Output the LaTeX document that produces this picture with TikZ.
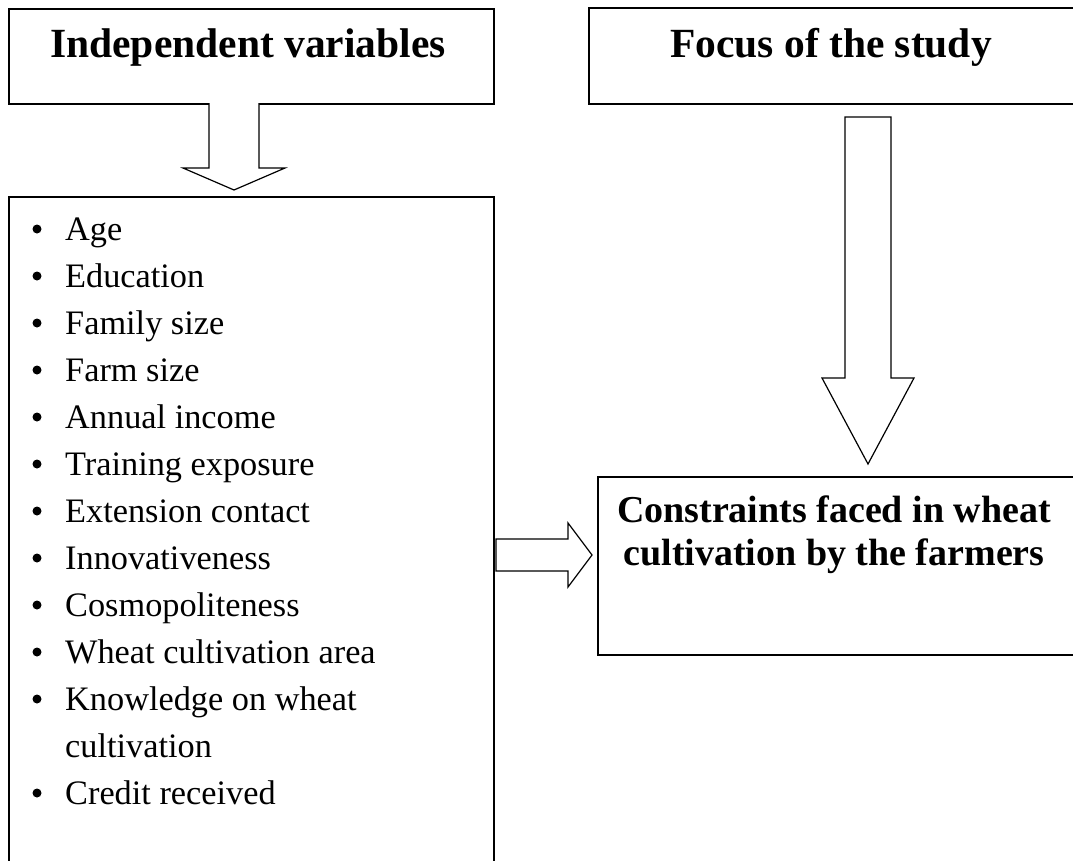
\documentclass[tikz,border=0pt]{standalone}
\usepackage{fontspec}
\setmainfont{Liberation Serif}
\begin{document}
\begin{tikzpicture}[x=1pt,y=-1pt,
  box/.style={draw,line width=1.6pt,rectangle,inner sep=0pt,anchor=north west},
  blockarrow/.style={draw,line width=1.2pt,line join=miter,fill=white},
  titletext/.style={font=\fontsize{41.5}{48}\selectfont\bfseries,anchor=base,inner sep=0pt},
  bigtext/.style={font=\fontsize{38}{43}\selectfont\bfseries,anchor=base,inner sep=0pt},
  itemtext/.style={font=\fontsize{34.3}{40}\selectfont,anchor=base west,inner sep=0pt},
  bulletdot/.style={circle,fill=black,inner sep=0pt,minimum size=9pt}]
\useasboundingbox (0,0) rectangle (1073,860);
\clip (0,0) rectangle (1073,860);
% boxes
\node[box,minimum width=485pt,minimum height=95pt] (indep) at (8,8) {};
\node[box,minimum width=500pt,minimum height=96pt] (focus) at (588,7) {};
\node[box,minimum width=485pt,minimum height=700pt] (list) at (8,196) {};
\node[box,minimum width=500pt,minimum height=178pt] (constr) at (597,476) {};
% titles
\node[titletext] (indeptxt) at (248,57) {Independent variables};
\node[titletext] (focustxt) at (831,57) {Focus of the study};
\node[bigtext] (c1) at (834,522) {Constraints faced in wheat};
\node[bigtext] (c2) at (834,565) {cultivation by the farmers};
% list items
\foreach \t [count=\i from 0] in {Age,Education,Family size,Farm size,Annual income,Training exposure,Extension contact,Innovativeness,Cosmopoliteness,Wheat cultivation area,Knowledge on wheat} {
  \node[bulletdot] (b\i) at (37,{240+47*\i-11}) {};
  \node[itemtext] (t\i) at (65,{240+47*\i}) {\t};
}
\node[itemtext] (t11) at (65,{240+47*11}) {cultivation};
\node[bulletdot] (b12) at (37,{240+47*12-11}) {};
\node[itemtext] (t12) at (65,{240+47*12}) {Credit received};
% arrow: independent -> list
\coordinate (a1tip) at (234,190);
\draw[blockarrow] (209,103) -- (209,168) -- (183,168) -- (a1tip) -- (285,168) -- (259,168) -- (259,103);
% arrow: focus -> constraints
\coordinate (a2tip) at (868,464);
\draw[blockarrow] (845,117) -- (845,378) -- (822,378) -- (a2tip) -- (914,378) -- (891,378) -- (891,117) -- cycle;
% arrow: list -> constraints
\coordinate (a3tip) at (592,555);
\draw[blockarrow] (496,539) -- (568,539) -- (568,523) -- (a3tip) -- (568,587) -- (568,571) -- (496,571) -- cycle;
\end{tikzpicture}
\end{document}
